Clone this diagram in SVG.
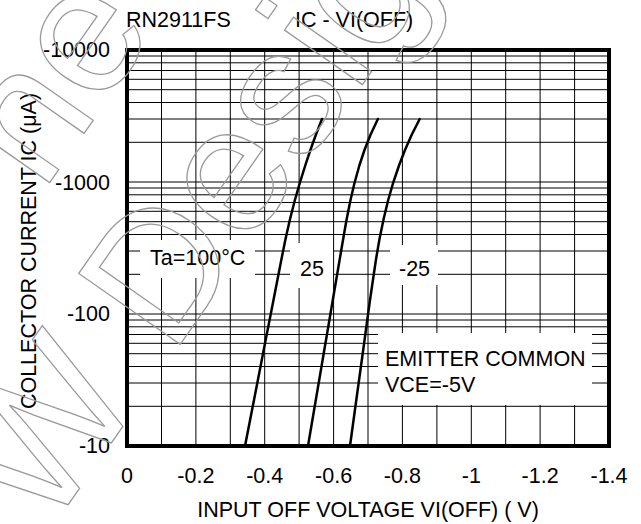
<svg xmlns="http://www.w3.org/2000/svg" width="641" height="524" viewBox="0 0 641 524">
<style>
  text { font-family: "Liberation Sans", Arial, sans-serif; fill: #000; }
  .lbl { font-size: 21.5px; }
  .grid line { stroke: #000; stroke-width: 1; }
  .curve { fill: none; stroke: #000; stroke-width: 2.5; stroke-linejoin: round; stroke-linecap: round; }
  .box { fill: #fff; stroke: none; }
  .wm { font-size: 180px; fill: none; stroke: #9a9a9a; stroke-width: 1.3; }
</style>
<rect width="641" height="524" fill="#fff"/>
<g id="grid" class="grid">
  <line x1="161.5" y1="50" x2="161.5" y2="446"/>
  <line x1="195.9" y1="50" x2="195.9" y2="446"/>
  <line x1="230.3" y1="50" x2="230.3" y2="446"/>
  <line x1="264.7" y1="50" x2="264.7" y2="446"/>
  <line x1="299.1" y1="50" x2="299.1" y2="446"/>
  <line x1="333.6" y1="50" x2="333.6" y2="446"/>
  <line x1="368" y1="50" x2="368" y2="446"/>
  <line x1="402.4" y1="50" x2="402.4" y2="446"/>
  <line x1="436.9" y1="50" x2="436.9" y2="446"/>
  <line x1="471.3" y1="50" x2="471.3" y2="446"/>
  <line x1="505.7" y1="50" x2="505.7" y2="446"/>
  <line x1="540.1" y1="50" x2="540.1" y2="446"/>
  <line x1="574.6" y1="50" x2="574.6" y2="446"/>
  <line x1="127" y1="56" x2="609" y2="56"/>
  <line x1="127" y1="62.8" x2="609" y2="62.8"/>
  <line x1="127" y1="70.5" x2="609" y2="70.5"/>
  <line x1="127" y1="79.3" x2="609" y2="79.3"/>
  <line x1="127" y1="89.7" x2="609" y2="89.7"/>
  <line x1="127" y1="102.5" x2="609" y2="102.5"/>
  <line x1="127" y1="119" x2="609" y2="119"/>
  <line x1="127" y1="142.3" x2="609" y2="142.3"/>
  <line x1="127" y1="182" x2="609" y2="182"/>
  <line x1="127" y1="188" x2="609" y2="188"/>
  <line x1="127" y1="194.8" x2="609" y2="194.8"/>
  <line x1="127" y1="202.5" x2="609" y2="202.5"/>
  <line x1="127" y1="211.3" x2="609" y2="211.3"/>
  <line x1="127" y1="221.7" x2="609" y2="221.7"/>
  <line x1="127" y1="234.5" x2="609" y2="234.5"/>
  <line x1="127" y1="251" x2="609" y2="251"/>
  <line x1="127" y1="274.3" x2="609" y2="274.3"/>
  <line x1="127" y1="314" x2="609" y2="314"/>
  <line x1="127" y1="320" x2="609" y2="320"/>
  <line x1="127" y1="326.8" x2="609" y2="326.8"/>
  <line x1="127" y1="334.5" x2="609" y2="334.5"/>
  <line x1="127" y1="343.3" x2="609" y2="343.3"/>
  <line x1="127" y1="353.7" x2="609" y2="353.7"/>
  <line x1="127" y1="366.5" x2="609" y2="366.5"/>
  <line x1="127" y1="383" x2="609" y2="383"/>
  <line x1="127" y1="406.3" x2="609" y2="406.3"/>
</g>
<g id="label-ta">
  <rect class="box" x="140" y="240" width="115" height="38"/>
  <text class="lbl" x="150" y="265">Ta=100°C</text>
</g>
<g id="label-25">
  <rect class="box" x="290" y="243" width="43" height="45"/>
  <text class="lbl" x="300" y="276">25</text>
</g>
<g id="label-m25">
  <rect class="box" x="390" y="245" width="48" height="40"/>
  <text class="lbl" x="399" y="276">-25</text>
</g>
<g id="label-emitter">
  <rect class="box" x="378" y="333" width="214" height="72"/>
  <text class="lbl" x="385" y="366">EMITTER COMMON</text>
  <text class="lbl" x="385" y="392">VCE=-5V</text>
</g>
<g id="connectors">
  <polyline id="curve-100" class="curve" points="245,446 254,400 263.7,350 273.5,300 281.3,260 285.3,240 289.8,220 294.9,200 299.8,183 305.4,165 310.4,150 315.8,135 322,119"/>
  <polyline id="curve-25" class="curve" points="308,446 315.8,400 324.3,350 332.8,300 339.6,260 343,240 346.5,220 350.5,200 354.5,183 359.5,165 364.5,150 370.4,135 377.9,119"/>
  <polyline id="curve-m25" class="curve" points="350,446 356.3,400 363.2,350 370,300 375.9,260 379.3,240 383.4,220 388.2,200 393.1,183 399.2,165 405,150 411.6,135 419.7,119"/>
</g>
<rect id="frame" x="127" y="50" width="482" height="396" fill="none" stroke="#000" stroke-width="4"/>
<g id="titles">
  <text class="lbl" x="126" y="27">RN2911FS</text>
  <text class="lbl" x="295" y="27">IC - VI(OFF)</text>
  <text class="lbl" x="368" y="517" text-anchor="middle">INPUT OFF VOLTAGE VI(OFF) ( V)</text>
  <text class="lbl" transform="translate(36,251) rotate(-90)" text-anchor="middle">COLLECTOR CURRENT IC (μA)</text>
</g>
<g id="y-ticks" class="lbl" text-anchor="end">
  <text x="110" y="57">-10000</text>
  <text x="110" y="190">-1000</text>
  <text x="110" y="321">-100</text>
  <text x="110" y="453">-10</text>
</g>
<g id="x-ticks" class="lbl" text-anchor="middle">
  <text x="127" y="483">0</text>
  <text x="195.9" y="483">-0.2</text>
  <text x="264.7" y="483">-0.4</text>
  <text x="333.6" y="483">-0.6</text>
  <text x="402.4" y="483">-0.8</text>
  <text x="471.3" y="483">-1</text>
  <text x="540.1" y="483">-1.2</text>
  <text x="609" y="483">-1.4</text>
</g>
<g id="watermark" transform="translate(171.8,356.6) rotate(-55)">
  <text class="wm" x="-218" y="0">W</text>
  <text class="wm" x="0" y="0">Desig</text>
  <text class="wm" x="60" y="-200">ne</text>
</g>
</svg>
